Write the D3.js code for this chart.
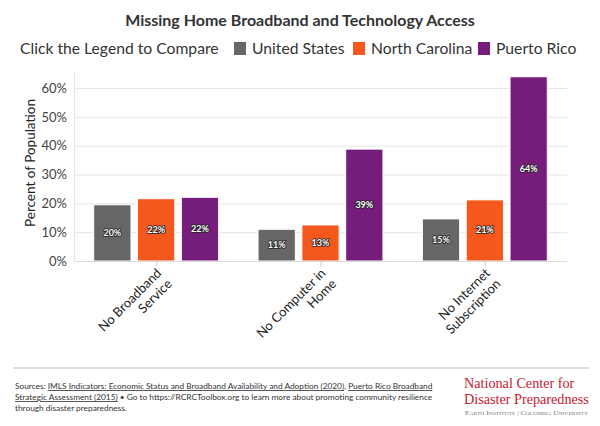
<!DOCTYPE html>
<html>
<head>
<meta charset="utf-8">
<script src="https://cdn.jsdelivr.net/npm/d3@7"></script>
<style>
  html, body { margin: 0; padding: 0; background: #fff; }
  svg { display: block; font-family: Lato, "Noto Sans", sans-serif; }
</style>
</head>
<body>
<svg id="chart" width="600" height="426"></svg>
<script>
const categories = [["No Broadband", "Service"], ["No Computer in", "Home"], ["No Internet", "Subscription"]];
const seriesNames = ["United States", "North Carolina", "Puerto Rico"];
const seriesColors = ["#666666", "#f4581c", "#761d7c"];
const unitedStates = [19.5, 11.0, 14.6];
const northCarolina = [21.6, 12.5, 21.2];
const puertoRico = [22.1, 38.8, 63.9];
const yTicks = [0, 10, 20, 30, 40, 50, 60];
const seriesValues = [unitedStates, northCarolina, puertoRico];

const svg = d3.select("#chart");
const plotBottom = 261, plotTop = 88;

const x0 = d3.scaleBand().domain(d3.range(categories.length)).range([74, 567]).paddingInner(0.24).paddingOuter(0.12);
const x1 = d3.scaleBand().domain(d3.range(seriesNames.length)).range([0, x0.bandwidth()]).paddingInner(0.15).paddingOuter(0);
const y = d3.scaleLinear().domain([0, 60]).range([plotBottom, plotTop]);

// Title
svg.append("text").attr("x", 300).attr("y", 26).attr("text-anchor", "middle")
  .attr("font-size", 16).attr("font-weight", 700).attr("fill", "#333")
  .text("Missing Home Broadband and Technology Access");

// Legend
const legend = svg.append("g").attr("font-size", 15.7).attr("fill", "#333");
legend.append("text").attr("x", 20).attr("y", 54).text("Click the Legend to Compare");
const legendX = [234, 353, 478];
seriesNames.forEach((n, i) => {
  legend.append("rect").attr("x", legendX[i]).attr("y", 42).attr("width", 12).attr("height", 13).attr("fill", seriesColors[i]);
  legend.append("text").attr("x", legendX[i] + 18).attr("y", 54).text(n);
});

// Gridlines
svg.append("g").selectAll("line").data(yTicks).join("line")
  .attr("x1", 74).attr("x2", 567).attr("y1", d => y(d) + 0.5).attr("y2", d => y(d) + 0.5)
  .attr("stroke", "#e6e6e6").attr("stroke-width", 1);
svg.append("line").attr("x1", 74.5).attr("x2", 74.5).attr("y1", 73).attr("y2", plotBottom)
  .attr("stroke", "#e6e6e6");

// Y axis labels
const yAxis = d3.axisLeft(y).tickValues(yTicks).tickFormat(d => d + "%").tickSize(0).tickPadding(7);
const yg = svg.append("g").attr("transform", "translate(74,0)").call(yAxis);
yg.select(".domain").remove();
yg.selectAll("text").attr("font-size", 13).attr("fill", "#444").attr("font-family", "Lato, sans-serif");

svg.append("text").attr("transform", `translate(35,163) rotate(-90)`).attr("text-anchor", "middle")
  .attr("font-size", 13.5).attr("fill", "#222").text("Percent of Population");

// Bars
const groups = svg.append("g").selectAll("g").data(categories).join("g")
  .attr("transform", (d, i) => `translate(${x0(i)},0)`);
groups.each(function (c, ci) {
  const g = d3.select(this);
  seriesValues.forEach((vals, si) => {
    const v = vals[ci];
    g.append("rect").attr("x", x1(si)).attr("y", y(v)).attr("width", x1.bandwidth())
      .attr("height", plotBottom - y(v)).attr("fill", seriesColors[si])
      .attr("stroke", "#fff").attr("stroke-width", 1);
    g.append("text").attr("x", x1(si) + x1.bandwidth() / 2).attr("y", (y(v) + plotBottom) / 2 + 3)
      .attr("text-anchor", "middle").attr("font-size", 9).attr("font-weight", 700)
      .attr("fill", "#fff").attr("stroke", "#222").attr("stroke-width", 1.6).attr("stroke-linejoin", "round")
      .attr("paint-order", "stroke").text(Math.round(v) + "%");
  });
});

// X axis baseline & ticks
svg.append("line").attr("x1", 74).attr("x2", 567).attr("y1", plotBottom + 0.5).attr("y2", plotBottom + 0.5).attr("stroke", "#ddd");
svg.append("g").selectAll("line").data(categories).join("line")
  .attr("x1", (d, i) => x0(i) + x0.bandwidth() / 2 + 0.5).attr("x2", (d, i) => x0(i) + x0.bandwidth() / 2 + 0.5)
  .attr("y1", plotBottom).attr("y2", plotBottom + 5).attr("stroke", "#ccc");

// X labels
const xl = svg.append("g").selectAll("text").data(categories).join("text")
  .attr("transform", (d, i) => `translate(${x0(i) + x0.bandwidth() / 2 + 6},${plotBottom + 13}) rotate(-45)`)
  .attr("text-anchor", "end").attr("font-size", 13).attr("fill", "#222");
xl.each(function (lines) {
  const t = d3.select(this);
  lines.forEach((l, k) => t.append("tspan").attr("x", 0).attr("dy", k === 0 ? 0 : 15).text(l));
});

// Footer separator
svg.append("line").attr("x1", 13).attr("x2", 589).attr("y1", 368).attr("y2", 368).attr("stroke", "#ddd").attr("stroke-width", 2);

// Sources
const src = svg.append("g").attr("font-size", 8.3).attr("fill", "#333");
const l1 = src.append("text").attr("x", 15).attr("y", 389);
l1.append("tspan").text("Sources: ");
l1.append("tspan").attr("text-decoration", "underline").text("IMLS Indicators: Economic Status and Broadband Availability and Adoption (2020)");
l1.append("tspan").text(", ");
l1.append("tspan").attr("text-decoration", "underline").text("Puerto Rico Broadband");
const l2 = src.append("text").attr("x", 15).attr("y", 400);
l2.append("tspan").attr("text-decoration", "underline").text("Strategic Assessment (2015)");
l2.append("tspan").text(" \u2022 Go to https://RCRCToolbox.org to learn more about promoting community resilience");
src.append("text").attr("x", 15).attr("y", 411).text("through disaster preparedness.");

// Logo
const logo = svg.append("g").attr("font-family", "'Liberation Serif', 'DejaVu Serif', serif").attr("fill", "#c8202f");
logo.append("text").attr("x", 464).attr("y", 388).attr("font-size", 14.2).text("National Center for");
logo.append("text").attr("x", 464).attr("y", 404).attr("font-size", 14.2).text("Disaster Preparedness");
logo.append("text").attr("x", 465).attr("y", 415).attr("font-size", 6.5).attr("fill", "#777")
  .attr("font-variant", "small-caps").attr("textLength", 123).attr("lengthAdjust", "spacingAndGlyphs")
  .text("Earth Institute | Columbia University");
</script>
</body>
</html>
